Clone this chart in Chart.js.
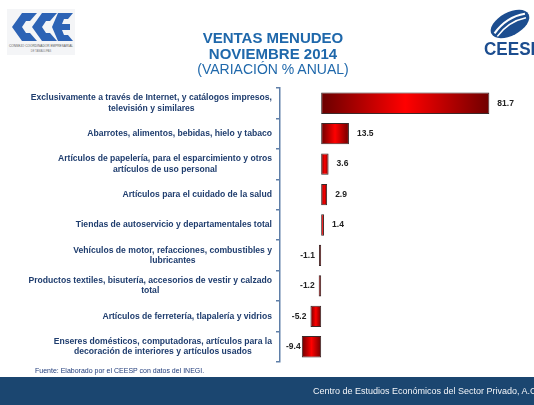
<!DOCTYPE html>
<html>
<head>
<meta charset="utf-8">
<script src="https://cdn.jsdelivr.net/npm/chart.js@4/dist/chart.umd.min.js"></script>
<style>
  body { margin: 0; background: #fff; font-family: "Liberation Sans", Arial, sans-serif; }
  #wrap { position: relative; width: 534px; height: 405px; overflow: hidden; }
  #chart { position: absolute; left: 0; top: 0; }
  .titulo { position: absolute; left: 173px; width: 200px; text-align: center; color: #1f68ab; white-space: nowrap; }
  #fuente { position: absolute; left: 35px; top: 367px; font-size: 7px; color: #1f3b7a; }
  #banda { position: absolute; left: 0; top: 377px; width: 534px; height: 28px; background: #1b4670; overflow: hidden; }
  #banda span { position: absolute; left: 313px; top: 9px; font-size: 9px; color: #f2f4f8; white-space: nowrap; }
</style>
</head>
<body>
<div id="wrap">
  <canvas id="chart" width="534" height="405"></canvas>

  <!-- logo CCE -->
  <svg style="position:absolute;left:7px;top:9px" width="68" height="46">
    <rect width="68" height="46" fill="#f4f5f7"/>
    <g fill="#2d63b5">
      <path d="M15 4 L30 4 L23 12 L19 12 L15 18 L19 24 L23 24 L30 32 L15 32 L5 18 Z"/>
      <path d="M35 4 L50 4 L43 12 L39 12 L35 18 L39 24 L43 24 L50 32 L35 32 L25 18 Z"/>
      <path d="M51 4 L66 4 L61 10 L57 10 L55 15 L63 15 L63 21 L55 21 L57 26 L61 26 L66 32 L51 32 L45 18 Z"/>
    </g>
    <text x="34" y="38" font-size="3.2" text-anchor="middle" fill="#555">CONSEJO COORDINADOR EMPRESARIAL</text>
    <text x="34" y="43" font-size="2.6" text-anchor="middle" fill="#777">DE TAMAULIPAS</text>
  </svg>

  <!-- logo CEESP -->
  <svg style="position:absolute;left:478px;top:5px" width="56" height="52">
    <g transform="rotate(-28 32 19)">
      <ellipse cx="32" cy="19" rx="21" ry="11.5" fill="#1c4d8f"/>
      <path d="M14 20 Q32 11 50 17" stroke="#fff" stroke-width="2.2" fill="none"/>
      <path d="M15 24 Q32 16 49 21" stroke="#fff" stroke-width="1.6" fill="none"/>
    </g>
    <text x="6" y="50" font-size="18" font-weight="bold" fill="#1c4d8f" font-family="Liberation Sans, Arial" textLength="58" lengthAdjust="spacingAndGlyphs">CEESP</text>
  </svg>

  <div class="titulo" style="top:29px;font-size:15px;font-weight:bold">VENTAS MENUDEO</div>
  <div class="titulo" style="top:45px;font-size:15px;font-weight:bold">NOVIEMBRE 2014</div>
  <div class="titulo" style="top:61px;font-size:14px">(VARIACIÓN % ANUAL)</div>

  <div id="fuente">Fuente: Elaborado por el CEESP con datos del INEGI.</div>
  <div id="banda"><span>Centro de Estudios Económicos del Sector Privado, A.C.</span></div>
</div>

<script>
// Categorias (de arriba hacia abajo)
const categorias = [
  ['Exclusivamente a través de Internet, y catálogos impresos,', 'televisión y similares'],
  'Abarrotes, alimentos, bebidas, hielo y tabaco',
  ['Artículos de papelería, para el esparcimiento y otros', 'artículos de uso personal'],
  'Artículos para el cuidado de la salud',
  'Tiendas de autoservicio y departamentales total',
  ['Vehículos de motor, refacciones, combustibles y', 'lubricantes'],
  ['Productos textiles, bisutería, accesorios de vestir y calzado', 'total'],
  'Artículos de ferretería, tlapalería y vidrios',
  ['Enseres domésticos, computadoras, artículos para la', 'decoración de interiores y artículos usados'],
];

// Variacion % anual
const variacion = [81.7, 13.5, 3.6, 2.9, 1.4, -1.1, -1.2, -5.2, -9.4];

// Degradado horizontal rojo oscuro -> rojo -> rojo oscuro por barra
function rellenoBarra(context) {
  const chart = context.chart;
  if (!chart.chartArea || !chart.scales.x) return '#e00000';
  const x0 = chart.scales.x.getPixelForValue(0);
  const x1 = chart.scales.x.getPixelForValue(context.raw);
  const a = Math.min(x0, x1), b = Math.max(x0, x1);
  if (b - a < 1) return '#e00000';
  const g = chart.ctx.createLinearGradient(a, 0, b, 0);
  g.addColorStop(0, '#6a0000');
  g.addColorStop(0.5, '#ff0000');
  g.addColorStop(1, '#700000');
  return g;
}

// Cada etiqueta del eje centrada sobre su propio ancho y pegada al eje
const alinearEtiquetas = {
  id: 'alinearEtiquetas',
  beforeDraw(chart) {
    const y = chart.scales.y;
    const items = y.getLabelItems(chart.chartArea);
    const ctx = chart.ctx;
    const borde = y.right - y.options.grid.tickLength - y.options.ticks.padding;
    ctx.save();
    items.forEach(it => {
      ctx.font = it.font.string;
      const lineas = Array.isArray(it.label) ? it.label : [it.label];
      const w = Math.max(...lineas.map(l => ctx.measureText(l).width));
      it.options.textAlign = 'center';
      it.options.translation[0] = borde - w / 2;
    });
    ctx.restore();
  }
};

// Etiquetas de valor junto a cada barra
const etiquetas = {
  id: 'etiquetas',
  afterDatasetsDraw(chart) {
    const ctx = chart.ctx;
    const meta = chart.getDatasetMeta(0);
    ctx.save();
    ctx.font = 'bold 8.5px "Liberation Sans", Arial, sans-serif';
    ctx.fillStyle = '#222';
    ctx.textBaseline = 'middle';
    meta.data.forEach((bar, i) => {
      const v = variacion[i];
      const txt = v.toFixed(1);
      if (v >= 0) {
        ctx.textAlign = 'left';
        ctx.fillText(txt, bar.x + 8, bar.y);
      } else {
        const w = ctx.measureText(txt).width;
        ctx.textAlign = 'right';
        ctx.fillText(txt, Math.max(bar.x - 4, chart.chartArea.left + 6 + w), bar.y);
      }
    });
    ctx.restore();
  }
};

new Chart(document.getElementById('chart'), {
  type: 'bar',
  data: {
    labels: categorias,
    datasets: [{
      label: 'Variación % anual',
      data: variacion,
      backgroundColor: rellenoBarra,
      borderColor: '#3a2a2a',
      borderWidth: 1,
      borderSkipped: false,
      barPercentage: 0.7,
      categoryPercentage: 1,
    }],
  },
  options: {
    indexAxis: 'y',
    responsive: false,
    animation: false,
    layout: { padding: { top: 88, bottom: 43, left: 0, right: 7 } },
    plugins: {
      legend: { display: false },
      tooltip: { enabled: false },
    },
    scales: {
      x: {
        display: false,
        min: -20,
        max: 100,
      },
      y: {
        afterFit(scale) { scale.width = 280; },
        border: { display: true, color: '#5f7fa8', width: 1.5 },
        grid: {
          display: true,
          offset: true,
          drawOnChartArea: false,
          drawTicks: true,
          tickLength: 4,
          color: '#5f7fa8',
          lineWidth: 1.5,
        },
        ticks: {
          padding: 4,
          color: '#1f3d6e',
          font: { family: '"Liberation Sans", Arial, sans-serif', size: 8.6, weight: 'bold', lineHeight: 1.2 },
          crossAlign: 'near',
        },
      },
    },
  },
  plugins: [alinearEtiquetas, etiquetas],
});
</script>
</body>
</html>
